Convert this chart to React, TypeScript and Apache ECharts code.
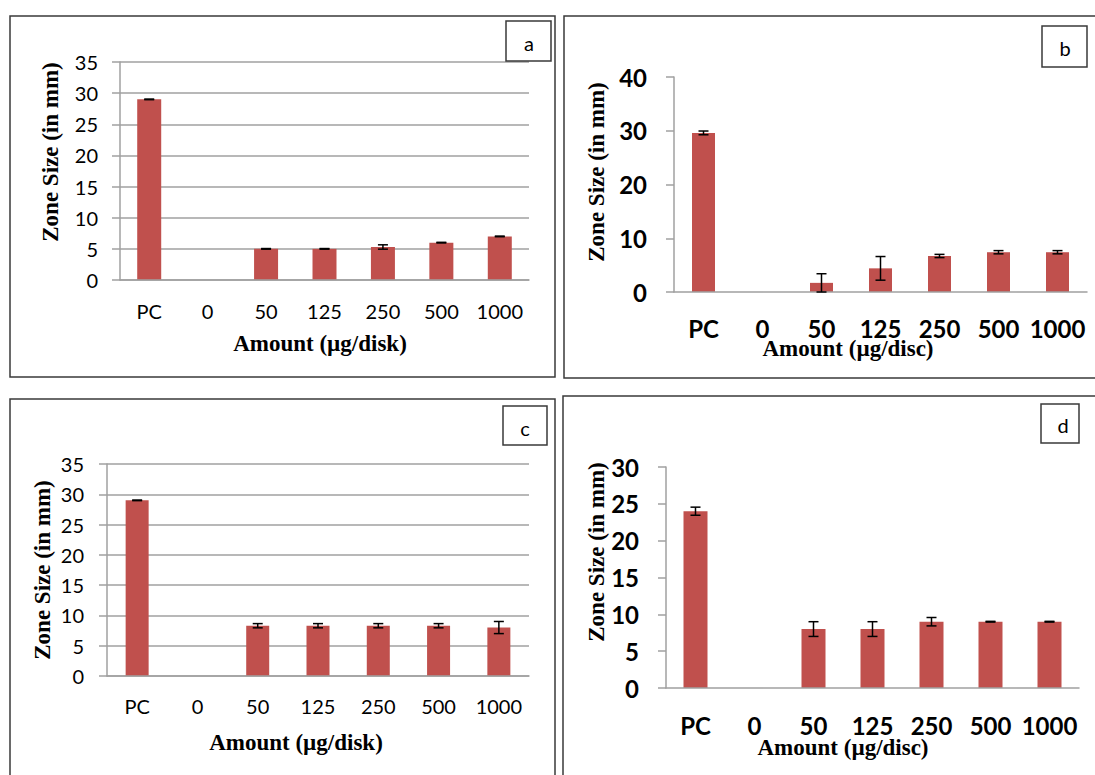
import React, { useEffect, useRef } from "react";
import * as echarts from "echarts";

const categories = ["PC", "0", "50", "125", "250", "500", "1000"];

const aValues = [29, 0, 5, 5, 5.3, 6, 7];
const aErrors = [0.05, 0, 0.05, 0.05, 0.35, 0.05, 0.05];

const bValues = [29.6, 0, 1.7, 4.4, 6.7, 7.4, 7.4];
const bErrors = [0.35, 0, 1.7, 2.2, 0.3, 0.3, 0.3];

const cValues = [29, 0, 8.3, 8.3, 8.3, 8.3, 8];
const cErrors = [0.05, 0, 0.35, 0.35, 0.35, 0.35, 1];

const dValues = [24, 0, 8, 8, 9, 9, 9];
const dErrors = [0.55, 0, 1, 1, 0.57, 0.05, 0.05];

const yTitle = "Zone Size (in mm)";
const xTitleDisk = "Amount (µg/disk)";
const xTitleDisc = "Amount (µg/disc)";

const BAR = "#C0504D";
const AXIS = "#A0A0A0";
const SERIF = "'Liberation Serif', 'Times New Roman', serif";
const SANS = "Lato, 'Noto Sans', sans-serif";

type Panel = {
  values: number[];
  errors: number[];
  grid: { left: number; top: number; width: number; height: number };
  max: number;
  interval: number;
  bold: boolean;
  fontSize: number;
  gridLines: boolean;
  xMargin: number;
  yMargin: number;
  barWidth: number;
};

const panels: Panel[] = [
  { values: aValues, errors: aErrors, grid: { left: 120, top: 62, width: 409, height: 218 }, max: 35, interval: 5, bold: false, fontSize: 20, gridLines: true, xMargin: 21, yMargin: 22, barWidth: 24 },
  { values: bValues, errors: bErrors, grid: { left: 674, top: 77, width: 413, height: 215 }, max: 40, interval: 10, bold: true, fontSize: 24, gridLines: false, xMargin: 24, yMargin: 27, barWidth: 23 },
  { values: cValues, errors: cErrors, grid: { left: 107, top: 464, width: 422, height: 212 }, max: 35, interval: 5, bold: false, fontSize: 20, gridLines: true, xMargin: 20, yMargin: 23, barWidth: 23 },
  { values: dValues, errors: dErrors, grid: { left: 666, top: 467, width: 413, height: 221 }, max: 30, interval: 5, bold: true, fontSize: 24, gridLines: false, xMargin: 25, yMargin: 27, barWidth: 24 },
];

const errorRender = (params: any, api: any) => {
  const x = api.value(0);
  const lo = api.coord([x, api.value(1)]);
  const hi = api.coord([x, api.value(2)]);
  const half = 5;
  const style = { stroke: "#000", lineWidth: 1.5 };
  return {
    type: "group",
    children: [
      { type: "line", shape: { x1: lo[0], y1: lo[1], x2: hi[0], y2: hi[1] }, style },
      { type: "line", shape: { x1: hi[0] - half, y1: hi[1], x2: hi[0] + half, y2: hi[1] }, style },
      { type: "line", shape: { x1: lo[0] - half, y1: lo[1], x2: lo[0] + half, y2: lo[1] }, style },
    ],
  };
};

function frame(x: number, y: number, w: number, h: number) {
  return { type: "rect", shape: { x, y, width: w, height: h }, style: { fill: "none", stroke: "#3a3a3a", lineWidth: 1.5 }, silent: true };
}

function label(x: number, y: number, w: number, h: number, t: string, tx: number, ty: number) {
  return [
    { type: "rect", shape: { x, y, width: w, height: h }, style: { fill: "#fff", stroke: "#3a3a3a", lineWidth: 1.5 }, z: 10 },
    { type: "text", x: tx, y: ty, style: { text: t, font: `20px ${SANS}`, fill: "#000", align: "center", verticalAlign: "middle" }, z: 11 },
  ];
}

function ytext(x: number, y: number, t: string) {
  return { type: "text", x, y, rotation: Math.PI / 2, style: { text: t, font: `bold 23px ${SERIF}`, fill: "#000", align: "center", verticalAlign: "middle" } };
}

function xtext(x: number, y: number, t: string) {
  return { type: "text", x, y, style: { text: t, font: `bold 23px ${SERIF}`, fill: "#000", align: "center", verticalAlign: "middle" } };
}

export default function App() {
  const ref = useRef<HTMLDivElement>(null);
  useEffect(() => {
    if (!ref.current) return;
    const chart = echarts.init(ref.current, undefined, { renderer: "svg" });
    const grid = panels.map((p) => ({ ...p.grid, containLabel: false }));
    const xAxis = panels.map((p, i) => ({
      type: "category",
      gridIndex: i,
      data: categories,
      axisLine: { show: true, lineStyle: { color: AXIS, width: 1.5 } },
      axisTick: { show: false },
      axisLabel: { color: "#000", fontFamily: SANS, fontSize: p.fontSize, fontWeight: p.bold ? "bold" : "normal", margin: p.xMargin, interval: 0 },
      z: 3,
    }));
    const yAxis = panels.map((p, i) => ({
      type: "value",
      gridIndex: i,
      min: 0,
      max: p.max,
      interval: p.interval,
      axisLine: { show: true, lineStyle: { color: AXIS, width: 1.5 } },
      axisTick: { show: true, length: 8, lineStyle: { color: AXIS, width: 1.5 } },
      splitLine: { show: p.gridLines, lineStyle: { color: AXIS, width: 1.5 } },
      axisLabel: { color: "#000", fontFamily: SANS, fontSize: p.fontSize, fontWeight: p.bold ? "bold" : "normal", margin: p.yMargin },
    }));
    const series: any[] = [];
    panels.forEach((p, i) => {
      series.push({
        type: "bar",
        xAxisIndex: i,
        yAxisIndex: i,
        data: p.values,
        barWidth: p.barWidth,
        itemStyle: { color: BAR },
        z: 2,
      });
      const errData = p.values
        .map((v, k) => [k, v - p.errors[k], v + p.errors[k]])
        .filter((d, k) => p.errors[k] > 0);
      series.push({
        type: "custom",
        xAxisIndex: i,
        yAxisIndex: i,
        data: errData,
        renderItem: errorRender,
        z: 5,
      });
    });
    const graphic: any[] = [
      frame(10, 16, 545, 361),
      frame(564, 16, 540, 362),
      frame(10, 399, 545, 400),
      frame(563, 396, 540, 400),
      ...label(506, 21, 45, 40, "a", 529, 43),
      ...label(1042, 26, 45, 41, "b", 1065, 48),
      ...label(503, 406, 44, 39, "c", 525, 428),
      ...label(1041, 404, 38, 39, "d", 1063, 425),
      ytext(50, 152, yTitle),
      xtext(320, 343, xTitleDisk),
      ytext(596, 172, yTitle),
      xtext(848, 348, xTitleDisc),
      ytext(42, 570, yTitle),
      xtext(296, 742, xTitleDisk),
      ytext(596, 552, yTitle),
      xtext(843, 747, xTitleDisc),
    ];
    chart.setOption({
      animation: false,
      backgroundColor: "#fff",
      grid,
      xAxis,
      yAxis,
      series,
      graphic,
    });
    return () => chart.dispose();
  }, []);
  return (
    <div
      ref={ref}
      style={{ position: "fixed", left: 0, top: 0, width: 1095, height: 775, background: "#fff" }}
    />
  );
}
